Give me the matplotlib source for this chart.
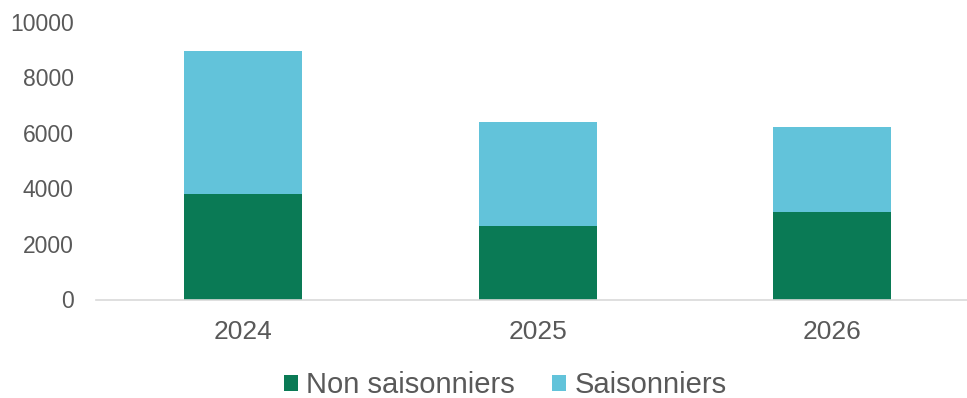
import matplotlib
matplotlib.use("Agg")
import matplotlib.pyplot as plt
import numpy as np

years = ["2024", "2025", "2026"]
non_saisonniers = [3810, 2660, 3150]
saisonniers = [5160, 3720, 3050]

GREEN = "#0A7A55"
BLUE = "#62C3DA"
TEXT = "#595959"

plt.rcParams["font.family"] = ["Liberation Sans", "DejaVu Sans"]

W, H = 967, 398
fig = plt.figure(figsize=(W / 100, H / 100), dpi=100)
# axes box in pixel terms: zero line at y=299.5, 10000 at y=22
left, right = 96, 967
top, bottom = 22, 299.5
ax = fig.add_axes([left / W, 1 - bottom / H, (right - left) / W, (bottom - top) / H])

x = np.arange(len(years))
width = 0.40
ax.bar(x, non_saisonniers, width, color=GREEN, label="Non saisonniers")
ax.bar(x, saisonniers, width, bottom=non_saisonniers, color=BLUE, label="Saisonniers")

ax.set_xlim(-0.5, 2.457)
ax.set_ylim(0, 10000)
ax.set_yticks(np.arange(0, 10001, 2000))
ax.set_xticks(x)
ax.set_xticklabels(years)

for s in ["top", "right", "left"]:
    ax.spines[s].set_visible(False)
ax.spines["bottom"].set_color("#D9D9D9")
ax.spines["bottom"].set_linewidth(1.2)
ax.tick_params(axis="both", length=0, colors=TEXT)
ax.tick_params(axis="y", labelsize=16.5, pad=16)
ax.tick_params(axis="x", labelsize=19, pad=15)

fig.legend(loc="center", bbox_to_anchor=(505 / W, 1 - 385 / H), ncol=2, frameon=False,
           fontsize=21, labelcolor=TEXT, handlelength=0.48, handleheight=0.48,
           handletextpad=0.3, columnspacing=1.25)

fig.savefig("out.png", dpi=100)
